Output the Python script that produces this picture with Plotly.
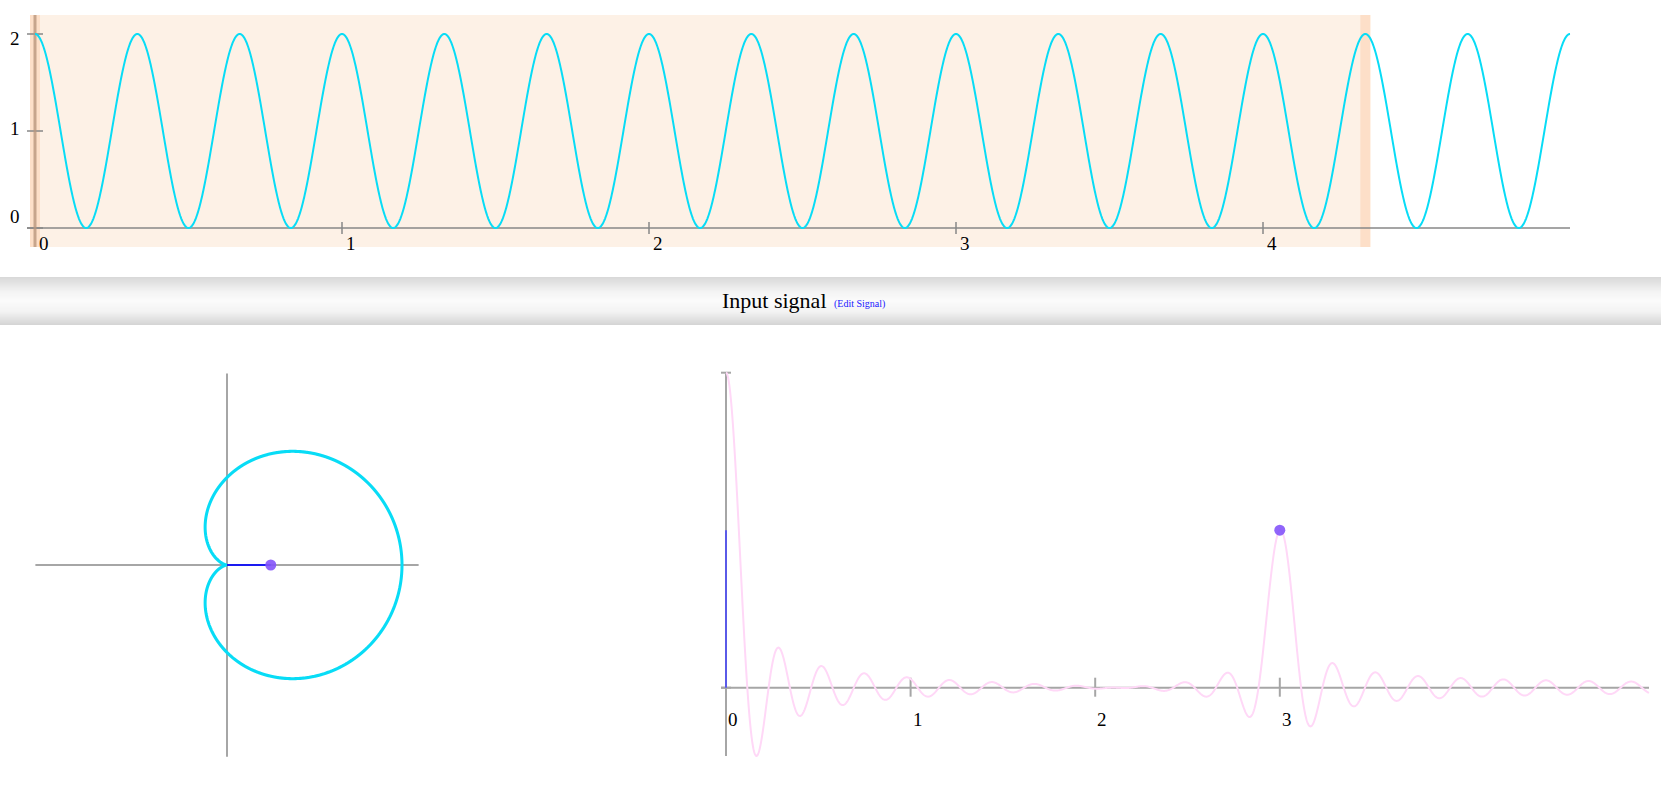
import numpy as np
import plotly.graph_objects as go

# ---------------- data ----------------
signal_frequency = 3.0          # 15 peaks over 5 s
signal_offset = 1.0             # signal swings between 0 and 2
signal_amplitude = 1.0
time_span = [0.0, 5.0]          # plotted time range of the input signal
window_span = [0.0, 13.0 / 3.0] # shaded analysis window (ends on the 13th peak)
winding_frequency = 3.0         # current winding frequency (purple dot)
frequency_span = [0.0, 5.0]     # frequency axis of the transform plot

top_x_ticks = [1, 2, 3, 4]
top_x_labels = ["0", "1", "2", "3", "4"]
top_x_label_values = [0, 1, 2, 3, 4]
top_y_ticks = [0, 1, 2]
top_y_labels = ["0", "1", "2"]

fourier_x_ticks = [1, 2, 3]
fourier_x_labels = ["0", "1", "2", "3"]
fourier_x_label_values = [0, 1, 2, 3]
fourier_y_ticks = [0, 1]

# ---------------- derived curves ----------------
T = window_span[1] - window_span[0]
t = np.linspace(time_span[0], time_span[1], 3001)
g = signal_offset + signal_amplitude * np.cos(2 * np.pi * signal_frequency * t)

tw = np.linspace(window_span[0], window_span[1], 6001)
gw = signal_offset + signal_amplitude * np.cos(2 * np.pi * signal_frequency * tw)
wound = gw * np.exp(-2j * np.pi * winding_frequency * tw)
com = np.trapezoid(wound, tw) / T

freqs = np.linspace(frequency_span[0], frequency_span[1], 2501)
fourier_re = (signal_offset * np.sinc(2 * freqs * T)
              + 0.5 * signal_amplitude * (np.sinc(2 * (freqs - signal_frequency) * T)
                                          + np.sinc(2 * (freqs + signal_frequency) * T)))

# ---------------- layout geometry (pixels) ----------------
W, H = 1661, 787
def xdom(a, b): return [a / W, b / W]
def ydom(a, b): return [1 - b / H, 1 - a / H]

# top chart
T_X0, T_SX, T_Y0, T_SY = 35.0, 307.0, 228.0, 97.0
# winding chart
P_CX, P_CY, P_S = 227.0, 565.0, 87.5
# fourier chart
F_X0, F_SX, F_Y0, F_SY = 726.0, 184.6, 687.7, 315.0

CYAN = "#08dcf6"
AXIS = "rgba(135,135,135,0.75)"
FONT = "Liberation Serif, Times New Roman, serif"

fig = go.Figure()

# ---- top: input signal ----
fig.add_trace(go.Scatter(x=t, y=g, mode="lines", line=dict(color=CYAN, width=2, simplify=False),
                         xaxis="x", yaxis="y", hoverinfo="skip", showlegend=False))
# ---- winding ----
fig.add_trace(go.Scatter(x=wound.real, y=wound.imag, mode="lines",
                         line=dict(color=CYAN, width=3, simplify=False),
                         xaxis="x2", yaxis="y2", hoverinfo="skip", showlegend=False))
fig.add_trace(go.Scatter(x=[0, com.real], y=[0, com.imag], mode="lines",
                         line=dict(color="#1a1af0", width=2),
                         xaxis="x2", yaxis="y2", hoverinfo="skip", showlegend=False))
fig.add_trace(go.Scatter(x=[com.real], y=[com.imag], mode="markers",
                         marker=dict(color="rgba(132,84,250,0.9)", size=11),
                         xaxis="x2", yaxis="y2", hoverinfo="skip", showlegend=False))
# ---- fourier ----
fig.add_trace(go.Scatter(x=freqs, y=fourier_re, mode="lines",
                         line=dict(color="#ffd8f7", width=2, simplify=False),
                         xaxis="x3", yaxis="y3", hoverinfo="skip", showlegend=False))
fig.add_trace(go.Scatter(x=[0, 0], y=[0, abs(com)], mode="lines",
                         line=dict(color="#5a5ae8", width=2),
                         xaxis="x3", yaxis="y3", hoverinfo="skip", showlegend=False))
cur = (signal_offset * np.sinc(2 * winding_frequency * T)
       + 0.5 * signal_amplitude * (np.sinc(2 * (winding_frequency - signal_frequency) * T)
                                   + np.sinc(2 * (winding_frequency + signal_frequency) * T)))
fig.add_trace(go.Scatter(x=[winding_frequency], y=[cur], mode="markers",
                         marker=dict(color="rgba(132,84,250,0.9)", size=11),
                         xaxis="x3", yaxis="y3", hoverinfo="skip", showlegend=False))

shapes = []
def line(xref, yref, x0, y0, x1, y1, color=AXIS, width=2, layer="below"):
    shapes.append(dict(type="line", xref=xref, yref=yref, x0=x0, y0=y0, x1=x1, y1=y1,
                       line=dict(color=color, width=width), layer=layer))

# top chart shading & window handles
hw = 5 / T_SX
sh_top, sh_bot = 213 / T_SY, -19 / T_SY
shapes.append(dict(type="rect", xref="x", yref="y", x0=window_span[0] - hw, x1=window_span[1] + hw,
                   y0=sh_bot, y1=sh_top, fillcolor="#fdf1e6", line=dict(width=0), layer="below"))
for edge in window_span:
    shapes.append(dict(type="rect", xref="x", yref="y", x0=edge - hw, x1=edge + hw,
                       y0=sh_bot, y1=sh_top, fillcolor="#fddfc8", line=dict(width=0), layer="below"))
# top axes
line("x", "y", -8 / T_SX, 0, time_span[1], 0)
for v in top_x_ticks:
    line("x", "y", v, -6 / T_SY, v, 6 / T_SY)
for v in top_y_ticks:
    line("x", "y", -8 / T_SX, v, 8 / T_SX, v)
line("x", "y", window_span[0], sh_bot, window_span[0], sh_top, color="rgba(185,150,125,0.8)", width=3)

# winding axes
L = 2.19
line("x2", "y2", -L, 0, L, 0, color="#a6a6a6")
line("x2", "y2", 0, -L, 0, L, color="#a6a6a6")

# fourier axes
line("x3", "y3", -5 / F_SX, 0, frequency_span[1], 0, color="#a6a6a6")
line("x3", "y3", 0, fourier_re.min(), 0, fourier_re.max(), color="#a6a6a6")
for v in fourier_x_ticks:
    line("x3", "y3", v, -9 / F_SY, v, 10 / F_SY, color="#a6a6a6")
for v in fourier_y_ticks:
    line("x3", "y3", -5 / F_SX, v, 5 / F_SX, v, color="#a6a6a6")

# middle header bar with a vertical grey-white-grey gradient
bar_top, bar_bot = 277, 325
stops = [(0.0, 216), (0.3, 243), (0.5, 251), (0.72, 243), (1.0, 212)]
n = bar_bot - bar_top
for i in range(n):
    f = (i + 0.5) / n
    for (a, ca), (b, cb) in zip(stops[:-1], stops[1:]):
        if a <= f <= b:
            c = int(round(ca + (cb - ca) * (f - a) / (b - a)))
            break
    shapes.append(dict(type="rect", xref="paper", yref="paper", x0=0, x1=1,
                       y0=1 - (bar_top + i + 1) / H, y1=1 - (bar_top + i) / H,
                       fillcolor=f"rgb({c},{c},{c})", line=dict(width=0), layer="below"))

annotations = []
tick_font = dict(family=FONT, size=19, color="black")
for v, lab in zip(top_x_label_values, top_x_labels):
    annotations.append(dict(xref="x", yref="y", x=v, y=0, text=lab, showarrow=False,
                            xanchor="left", yanchor="top", xshift=2, yshift=-3, font=tick_font))
y_label_shift = {0: 12, 1: 3, 2: -4}
for v, lab in zip(top_y_ticks, top_y_labels):
    annotations.append(dict(xref="x", yref="y", x=0, y=v, text=lab, showarrow=False,
                            xanchor="right", yanchor="middle", xshift=-13,
                            yshift=y_label_shift[v], font=tick_font))
for v, lab in zip(fourier_x_label_values, fourier_x_labels):
    annotations.append(dict(xref="x3", yref="y3", x=v, y=0, text=lab, showarrow=False,
                            xanchor="left", yanchor="top", xshift=0, yshift=-19, font=tick_font))
annotations.append(dict(xref="paper", yref="paper", x=720 / W, y=1 - 300 / H, text="Input signal",
                        showarrow=False, xanchor="left", yanchor="middle",
                        font=dict(family=FONT, size=22, color="black")))
annotations.append(dict(xref="paper", yref="paper", x=832 / W, y=1 - 303.5 / H, text="(Edit Signal)",
                        showarrow=False, xanchor="left", yanchor="middle",
                        font=dict(family=FONT, size=10, color="#2020ff")))

hidden = dict(visible=False, showgrid=False, zeroline=False, fixedrange=True)
fig.update_layout(
    width=W, height=H, margin=dict(l=0, r=0, t=0, b=0),
    paper_bgcolor="white", plot_bgcolor="rgba(0,0,0,0)",
    showlegend=False, shapes=shapes, annotations=annotations,
    xaxis=dict(domain=xdom(0, W), range=[(0 - T_X0) / T_SX, (W - T_X0) / T_SX], anchor="y", **hidden),
    yaxis=dict(domain=ydom(0, 262), range=[(T_Y0 - 262) / T_SY, T_Y0 / T_SY], anchor="x", **hidden),
    xaxis2=dict(domain=xdom(0, 460), range=[(0 - P_CX) / P_S, (460 - P_CX) / P_S], anchor="y2", **hidden),
    yaxis2=dict(domain=ydom(335, H), range=[(P_CY - H) / P_S, (P_CY - 335) / P_S], anchor="x2", **hidden),
    xaxis3=dict(domain=xdom(670, W), range=[(670 - F_X0) / F_SX, (W - F_X0) / F_SX], anchor="y3", **hidden),
    yaxis3=dict(domain=ydom(335, H), range=[(F_Y0 - H) / F_SY, (F_Y0 - 335) / F_SY], anchor="x3", **hidden),
)

fig.write_html("out.html", config={"displayModeBar": False},
               post_script="document.body.style.margin='0';")
